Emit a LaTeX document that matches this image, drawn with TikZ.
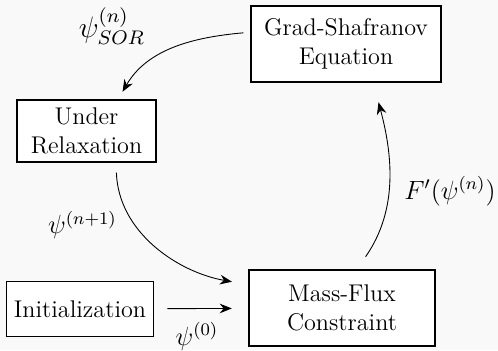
\documentclass[tikz,border=0pt]{standalone}
\usetikzlibrary{arrows.meta}

\definecolor{pagebg}{HTML}{F9F9F9}
\tikzset{
  block/.style={draw, thick, fill=white, align=center},
  flow/.style={-{Stealth[length=5.5pt, width=4.4pt, inset=1.8pt]}},
  flowlabel/.style={font=\fontsize{12}{14}\selectfont},
}

\begin{document}
\begin{tikzpicture}[font=\fontsize{11}{13.5}\selectfont]
    \fill[pagebg] (0,0) rectangle (7.968,5.6);
    \useasboundingbox (0,0) rectangle (7.968,5.6);

    % blocks
    \node[block, minimum width=3.04cm, minimum height=1.22cm] (gs) at (5.536,4.896) {Grad-Shafranov\\Equation};
    \node[block, minimum width=2.23cm, minimum height=0.96cm] (ur) at (1.384,3.504) {Under\\Relaxation};
    \node[block, minimum width=2.29cm, minimum height=0.88cm] (init) at (1.28,0.656) {Initialization};
    \node[block, minimum width=2.98cm, minimum height=1.22cm] (mf) at (5.472,0.672) {Mass-Flux\\Constraint};

    % iteration loop
    \draw[flow, shorten <=0.11cm, shorten >=0.14cm] (gs.173) to[out=185, in=60] (ur.45);
    \draw[flow, shorten <=0.16cm, shorten >=0.26cm] (ur.-47) to[out=-88, in=170] (mf.166);
    \draw[flow, shorten <=0.21cm, shorten >=0.26cm] (init) -- (mf);
    \draw[flow, shorten <=0.24cm, shorten >=0.32cm] (mf.69) to[out=55, in=-75] (gs.-55);

    % labels
    \node[flowlabel, scale=1.12] (lsor) at (1.79,5.18) {$\psi^{(n)}_{SOR}$};
    \node[flowlabel] (lnext) at (1.32,2.0) {$\psi^{(n+1)}$};
    \node[flowlabel] (lzero) at (3.15,0.22) {$\psi^{(0)}$};
    \node[flowlabel] (lprime) at (7.2,2.54) {$F'(\psi^{(n)})$};
\end{tikzpicture}
\end{document}
